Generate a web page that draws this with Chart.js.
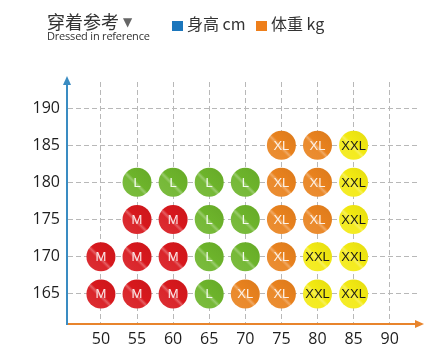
<!DOCTYPE html>
<html>
<head>
<meta charset="utf-8">
<script src="https://cdn.jsdelivr.net/npm/chart.js@4/dist/chart.umd.min.js"></script>
<style>
  body { margin: 0; background: #fff; }
  #wrap { position: relative; width: 443px; height: 354px; }
  #wrap canvas { position: absolute; left: 0; top: 0; }
  .title { position: absolute; left: 47px; top: 11px; font: 18px/20px "Noto Sans CJK SC"; color: #333; white-space: nowrap; }
  .title .tri { font: 12px "DejaVu Sans"; color: #666; margin-left: 4px; vertical-align: 3px; }
  .sub { position: absolute; left: 47px; top: 30px; font: 11px/12px "Open Sans"; color: #333; white-space: nowrap; letter-spacing: -0.2px; }
  .lg { position: absolute; top: 13px; font: 16px/20px "Noto Sans CJK SC"; color: #333; white-space: nowrap; }
  .lg i { display: inline-block; width: 11px; height: 10px; margin-right: 4px; vertical-align: -1px; }
</style>
</head>
<body>
<div id="wrap">
  <canvas id="c" width="443" height="354"></canvas>
  <div class="title">穿着参考<span class="tri">▼</span></div>
  <div class="sub">Dressed in reference</div>
  <div class="lg" style="left:172px"><i style="background:#1b76bc"></i>身高 cm</div>
  <div class="lg" style="left:256px"><i style="background:#ee7f1b"></i>体重 kg</div>
</div>
<script>
const weightTicks = [50, 55, 60, 65, 70, 75, 80, 85, 90];
const heightTicks = [165, 170, 175, 180, 185, 190];

// [weight, height] for each size
const sizeM = [[50,165],[55,165],[60,165],[50,170],[55,170],[60,170],[55,175],[60,175]];
const sizeL = [[65,165],[65,170],[70,170],[65,175],[70,175],[55,180],[60,180],[65,180],[70,180]];
const sizeXL = [[70,165],[75,165],[75,170],[75,175],[80,175],[75,180],[80,180],[75,185],[80,185]];
const sizeXXL = [[80,165],[85,165],[80,170],[85,170],[85,175],[85,180],[85,185]];

const sizeColors = { M: '#d8181d', L: '#6db42b', XL: '#e9821e', XXL: '#f3ea12' };
const textColors = { M: '#fbe9e9', L: '#f4fbee', XL: '#fdf1e6', XXL: '#1a1a1a' };

function shade(hex, amt) {
  const n = parseInt(hex.slice(1), 16);
  let r = n >> 16, g = (n >> 8) & 255, b = n & 255;
  const t = amt < 0 ? 0 : 255, p = Math.abs(amt);
  r = Math.round(r + (t - r) * p); g = Math.round(g + (t - g) * p); b = Math.round(b + (t - b) * p);
  return `rgb(${r},${g},${b})`;
}

function ballFill(name) {
  const base = sizeColors[name];
  return function (ctx) {
    const chart = ctx.chart;
    if (!chart.chartArea || !ctx.raw) return base;
    const x = chart.scales.x.getPixelForValue(ctx.raw.x);
    const y = chart.scales.y.getPixelForValue(ctx.raw.y);
    const r = 14;
    const g = chart.ctx.createLinearGradient(x - r, y + r, x + r, y - r);
    g.addColorStop(0, shade(base, 0.1));
    g.addColorStop(0.4, shade(base, 0.06));
    g.addColorStop(0.46, shade(base, 0.3));
    g.addColorStop(0.52, base);
    g.addColorStop(1, shade(base, -0.06));
    return g;
  };
}

function makeSet(name, pts) {
  return {
    label: name,
    data: pts.map(p => ({ x: p[0], y: p[1] })),
    backgroundColor: ballFill(name),
    borderWidth: 0,
    pointRadius: 14.5,
    pointHoverRadius: 14.5
  };
}

const labelPlugin = {
  id: 'ballLabels',
  afterDatasetsDraw(chart) {
    const c = chart.ctx;
    c.save();
    c.font = '13px "Liberation Sans"';
    c.textAlign = 'center';
    c.textBaseline = 'middle';
    chart.data.datasets.forEach((ds, i) => {
      c.fillStyle = textColors[ds.label];
      chart.getDatasetMeta(i).data.forEach(el => c.fillText(ds.label, el.x, el.y + 1));
    });
    c.restore();
  }
};

const arrowPlugin = {
  id: 'axisArrows',
  afterDraw(chart) {
    const a = chart.chartArea, c = chart.ctx;
    c.save();
    c.fillStyle = '#3a8cc2';
    c.beginPath();
    c.moveTo(a.left, a.top - 6); c.lineTo(a.left - 4, a.top + 3); c.lineTo(a.left + 4, a.top + 3);
    c.closePath(); c.fill();
    c.fillStyle = '#e8842c';
    c.beginPath();
    c.moveTo(a.right + 4, a.bottom); c.lineTo(a.right - 5, a.bottom - 4); c.lineTo(a.right - 5, a.bottom + 4);
    c.closePath(); c.fill();
    c.restore();
  }
};

new Chart(document.getElementById('c'), {
  type: 'scatter',
  data: {
    datasets: [makeSet('M', sizeM), makeSet('L', sizeL), makeSet('XL', sizeXL), makeSet('XXL', sizeXXL)]
  },
  options: {
    responsive: false,
    animation: false,
    layout: { padding: { top: 82, right: 23, left: 0, bottom: 0 } },
    plugins: { legend: { display: false }, tooltip: { enabled: false } },
    scales: {
      x: {
        type: 'linear', min: 45.3, max: 94.2,
        afterBuildTicks: s => { s.ticks = weightTicks.map(v => ({ value: v })); },
        afterFit: s => { s.height = 30; },
        grid: { color: '#b8b8b8', drawTicks: false, lineWidth: 1 },
        border: { color: '#e8842c', width: 2, dash: [5, 3] },
        ticks: { color: '#1e1e1e', font: { family: 'Open Sans', size: 16 }, padding: 6, maxRotation: 0 }
      },
      y: {
        type: 'linear', min: 160.95, max: 193.5,
        afterBuildTicks: s => { s.ticks = heightTicks.map(v => ({ value: v })); },
        afterFit: s => { s.width = 67; },
        grid: { color: '#b8b8b8', drawTicks: false, lineWidth: 1 },
        border: { color: '#3a8cc2', width: 2, dash: [5, 3] },
        ticks: { color: '#1e1e1e', font: { family: 'Open Sans', size: 16 }, padding: 7 }
      }
    }
  },
  plugins: [labelPlugin, arrowPlugin]
});
</script>
</body>
</html>
